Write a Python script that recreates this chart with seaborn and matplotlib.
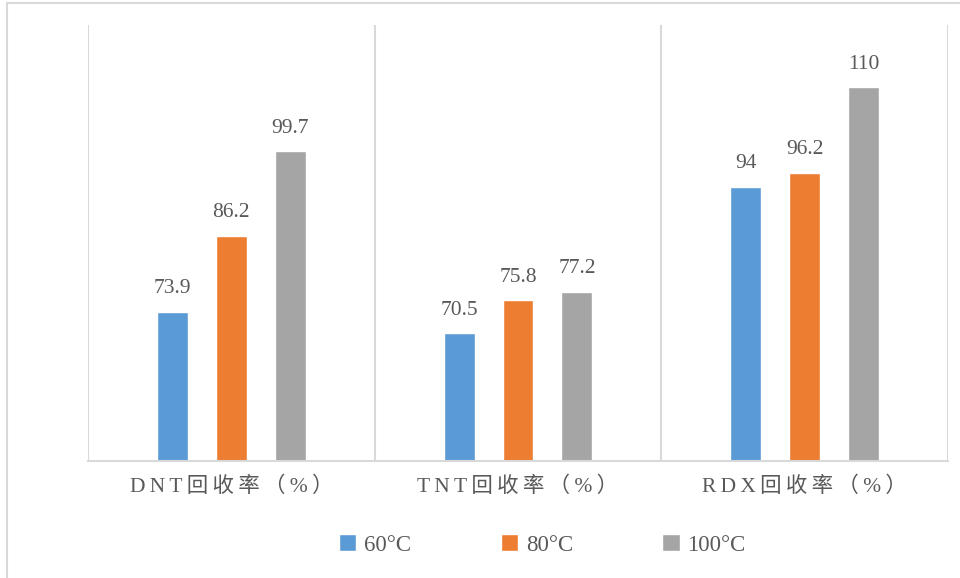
import matplotlib
matplotlib.use("Agg")
import matplotlib.pyplot as plt
from matplotlib.patches import Rectangle
import seaborn as sns
import pandas as pd

# Recovery rates (%) of each explosive at three extraction temperatures
categories = ["DNT回收率（%）", "TNT回收率（%）", "RDX回收率（%）"]
temperatures = ["60°C", "80°C", "100°C"]
rate_60 = [73.9, 70.5, 94]
rate_80 = [86.2, 75.8, 96.2]
rate_100 = [99.7, 77.2, 110]
colors = ["#5B9BD5", "#ED7D31", "#A5A5A5"]

rows = []
for temp, vals in zip(temperatures, [rate_60, rate_80, rate_100]):
    for cat, v in zip(categories, vals):
        rows.append({"category": cat, "temperature": temp, "rate": v})
df = pd.DataFrame(rows)

sns.set_theme(style="white")
plt.rcParams["font.family"] = ["Liberation Serif", "Noto Sans CJK SC", "DejaVu Sans"]
text_color = "#595959"
line_color = "#D9D9D9"

fig = plt.figure(figsize=(9.6, 5.78), dpi=100)
ax = fig.add_axes([88 / 960, 117 / 578, 860 / 960, 436 / 578])

sns.barplot(data=df, x="category", y="rate", hue="temperature",
            order=categories, hue_order=temperatures, palette=colors,
            width=0.617, gap=0.475, saturation=1, ax=ax, legend=True)

# value labels above each bar
for container in ax.containers:
    for bar in container:
        h = bar.get_height()
        ax.annotate(f"{h:g}", (bar.get_x() + bar.get_width() / 2, h),
                    xytext=(0, 13.5), textcoords="offset points",
                    ha="center", va="baseline", fontsize=15.5, color=text_color)

ax.set_ylim(50, 120)
ax.set_xlim(-0.5, len(categories) - 0.5)
ax.set_xlabel("")
ax.set_ylabel("")
ax.set_yticks([])

# letter-spaced category labels
spaced = ["\u2009".join(c) for c in categories]
ax.set_xticks(range(len(categories)))
ax.set_xticklabels(spaced, fontsize=15.5, color=text_color)
ax.tick_params(axis="x", length=0, pad=11)

for side in ["top", "left", "right"]:
    ax.spines[side].set_visible(False)
ax.spines["bottom"].set_color(line_color)
ax.spines["bottom"].set_linewidth(1.5)

# separators between category groups
for b in range(len(categories) + 1):
    ax.axvline(b - 0.5, color=line_color, lw=1.5, zorder=0)

handles, labels = ax.get_legend_handles_labels()
ax.get_legend().remove()
fig.legend(handles, labels, loc="center", bbox_to_anchor=(0.565, 0.057),
           ncol=3, frameon=False, fontsize=16.5, labelcolor=text_color,
           handlelength=0.75, handleheight=0.75, handletextpad=0.35,
           columnspacing=3.9)

# outer chart border
fig.add_artist(Rectangle((7 / 960, -0.1), 1.2, (578 - 3) / 578 + 0.1,
                         transform=fig.transFigure, fill=False,
                         edgecolor=line_color, lw=1.5))

fig.savefig("out.png", dpi=100, facecolor="white")
